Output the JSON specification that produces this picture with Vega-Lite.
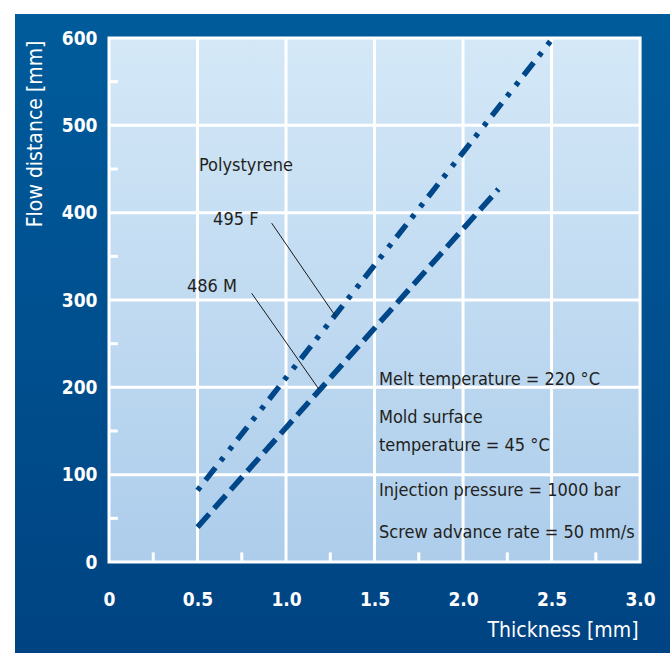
{
  "$schema": "https://vega.github.io/schema/vega-lite/v6.json",
  "width": 655,
  "height": 639,
  "autosize": {"type": "none"},
  "padding": {"left": 15, "top": 14, "right": 0, "bottom": 0},
  "background": "#ffffff",
  "config": {
    "view": {"stroke": null, "fill": "#00508f"},
    "font": "DejaVu Sans Condensed, sans-serif"
  },
  "datasets": {
    "bg": [{"x": -0.6, "x2": 3.2, "y": -110, "y2": 640}],
    "plot": [{"x": 0, "x2": 3, "y": 0, "y2": 600}],
    "vgrid": [
      {"x": 0.5, "y": 0, "y2": 600},
      {"x": 1.0, "y": 0, "y2": 600},
      {"x": 1.5, "y": 0, "y2": 600},
      {"x": 2.0, "y": 0, "y2": 600},
      {"x": 2.5, "y": 0, "y2": 600}
    ],
    "hgrid": [
      {"y": 100, "x": 0, "x2": 3},
      {"y": 200, "x": 0, "x2": 3},
      {"y": 300, "x": 0, "x2": 3},
      {"y": 400, "x": 0, "x2": 3},
      {"y": 500, "x": 0, "x2": 3}
    ],
    "minor": [
      {"x": 0, "x2": 0.05, "y": 50, "y2": 50},
      {"x": 0, "x2": 0.05, "y": 150, "y2": 150},
      {"x": 0, "x2": 0.05, "y": 250, "y2": 250},
      {"x": 0, "x2": 0.05, "y": 350, "y2": 350},
      {"x": 0, "x2": 0.05, "y": 450, "y2": 450},
      {"x": 0, "x2": 0.05, "y": 550, "y2": 550},
      {"x": 0.25, "x2": 0.25, "y": 0, "y2": 11},
      {"x": 0.75, "x2": 0.75, "y": 0, "y2": 11},
      {"x": 1.25, "x2": 1.25, "y": 0, "y2": 11},
      {"x": 1.75, "x2": 1.75, "y": 0, "y2": 11},
      {"x": 2.25, "x2": 2.25, "y": 0, "y2": 11},
      {"x": 2.75, "x2": 2.75, "y": 0, "y2": 11}
    ],
    "curves": [
      {"series": "486 M", "x": 0.5, "y": 40},
      {"series": "486 M", "x": 2.2, "y": 427},
      {"series": "495 F", "x": 0.5, "y": 82},
      {"series": "495 F", "x": 2.5, "y": 598}
    ],
    "leaders": [
      {"x": 0.919, "y": 388, "x2": 1.281, "y2": 281},
      {"x": 0.806, "y": 307.7, "x2": 1.186, "y2": 197.8}
    ],
    "labels": [
      {"text": "Polystyrene", "x": 0.508, "y": 453},
      {"text": "495 F", "x": 0.588, "y": 392},
      {"text": "486 M", "x": 0.44, "y": 315},
      {"text": "Melt temperature = 220 °C", "x": 1.525, "y": 208},
      {"text": "Mold surface", "x": 1.525, "y": 165},
      {"text": "temperature = 45 °C", "x": 1.525, "y": 133},
      {"text": "Injection pressure = 1000 bar", "x": 1.525, "y": 81},
      {"text": "Screw advance rate = 50 mm/s", "x": 1.525, "y": 33}
    ]
  },
  "layer": [
    {
      "data": {"name": "bg"},
      "mark": {
        "type": "rect",
        "clip": true,
        "fill": {
          "gradient": "linear", "x1": 0, "y1": 0, "x2": 0, "y2": 1,
          "stops": [{"offset": 0, "color": "#005c9c"}, {"offset": 1, "color": "#004382"}]
        }
      },
      "encoding": {
        "x": {
          "field": "x", "type": "quantitative",
          "scale": {"domain": [-0.531, 3.169], "nice": false, "zero": false},
          "axis": {
            "title": "Thickness [mm]",
            "values": [0, 0.5, 1, 1.5, 2, 2.5, 3],
            "labelExpr": "datum.value == 0 ? '0' : format(datum.value, '.1f')",
            "offset": -91, "domain": false, "ticks": false, "grid": false,
            "labelPadding": 28, "labelFontSize": 19, "labelColor": "#ffffff",
            "labelFontWeight": "bold", "labelFlush": false, "labelOverlap": false,
            "titleColor": "#ffffff", "titleFontSize": 21, "titleFontWeight": "normal",
            "titleX": 623, "titleY": 68, "titleAlign": "right", "titleBaseline": "middle",
            "zindex": 1
          }
        },
        "x2": {"field": "x2"},
        "y": {
          "field": "y", "type": "quantitative",
          "scale": {"domain": [-104.2, 627.5], "nice": false, "zero": false},
          "axis": {
            "title": "Flow distance [mm]",
            "values": [0, 100, 200, 300, 400, 500, 600],
            "offset": -94, "domain": false, "ticks": false, "grid": false,
            "labelPadding": 12, "labelFontSize": 19, "labelColor": "#ffffff",
            "labelFontWeight": "bold", "labelFlush": false, "labelOverlap": false,
            "titleColor": "#ffffff", "titleFontSize": 21, "titleFontWeight": "normal",
            "titleX": -74, "titleY": 26, "titleAngle": -90, "titleAlign": "right", "titleBaseline": "middle",
            "zindex": 1
          }
        },
        "y2": {"field": "y2"}
      }
    },
    {
      "data": {"name": "plot"},
      "mark": {
        "type": "rect",
        "fill": {
          "gradient": "linear", "x1": 0, "y1": 0, "x2": 0, "y2": 1,
          "stops": [{"offset": 0, "color": "#d4e8f7"}, {"offset": 1, "color": "#adcdeb"}]
        }
      },
      "encoding": {
        "x": {"field": "x", "type": "quantitative"},
        "x2": {"field": "x2"},
        "y": {"field": "y", "type": "quantitative"},
        "y2": {"field": "y2"}
      }
    },
    {
      "data": {"name": "vgrid"},
      "mark": {"type": "rule", "color": "#ffffff", "strokeWidth": 3},
      "encoding": {
        "x": {"field": "x", "type": "quantitative"},
        "y": {"field": "y", "type": "quantitative"},
        "y2": {"field": "y2"}
      }
    },
    {
      "data": {"name": "hgrid"},
      "mark": {"type": "rule", "color": "#ffffff", "strokeWidth": 3},
      "encoding": {
        "y": {"field": "y", "type": "quantitative"},
        "x": {"field": "x", "type": "quantitative"},
        "x2": {"field": "x2"}
      }
    },
    {
      "data": {"name": "minor"},
      "mark": {"type": "rule", "color": "#ffffff", "strokeWidth": 3},
      "encoding": {
        "x": {"field": "x", "type": "quantitative"},
        "x2": {"field": "x2"},
        "y": {"field": "y", "type": "quantitative"},
        "y2": {"field": "y2"}
      }
    },
    {
      "data": {"name": "plot"},
      "mark": {"type": "rect", "fill": null, "stroke": "#ffffff", "strokeWidth": 3},
      "encoding": {
        "x": {"field": "x", "type": "quantitative"},
        "x2": {"field": "x2"},
        "y": {"field": "y", "type": "quantitative"},
        "y2": {"field": "y2"}
      }
    },
    {
      "data": {"name": "curves"},
      "mark": {"type": "line", "color": "#00478a", "strokeWidth": 5.5, "strokeCap": "butt"},
      "encoding": {
        "x": {"field": "x", "type": "quantitative"},
        "y": {"field": "y", "type": "quantitative"},
        "detail": {"field": "series"},
        "strokeDash": {
          "field": "series", "type": "nominal",
          "scale": {"domain": ["486 M", "495 F"], "range": [[17.5, 7.5], [4.5, 8.5, 16, 8.5, 4.5, 9.5]]},
          "legend": null
        }
      }
    },
    {
      "data": {"name": "leaders"},
      "mark": {"type": "rule", "color": "#1a1a1a", "strokeWidth": 1},
      "encoding": {
        "x": {"field": "x", "type": "quantitative"},
        "x2": {"field": "x2"},
        "y": {"field": "y", "type": "quantitative"},
        "y2": {"field": "y2"}
      }
    },
    {
      "data": {"name": "labels"},
      "mark": {"type": "text", "align": "left", "baseline": "middle", "fontSize": 18, "color": "#231f20"},
      "encoding": {
        "x": {"field": "x", "type": "quantitative"},
        "y": {"field": "y", "type": "quantitative"},
        "text": {"field": "text"}
      }
    }
  ]
}
